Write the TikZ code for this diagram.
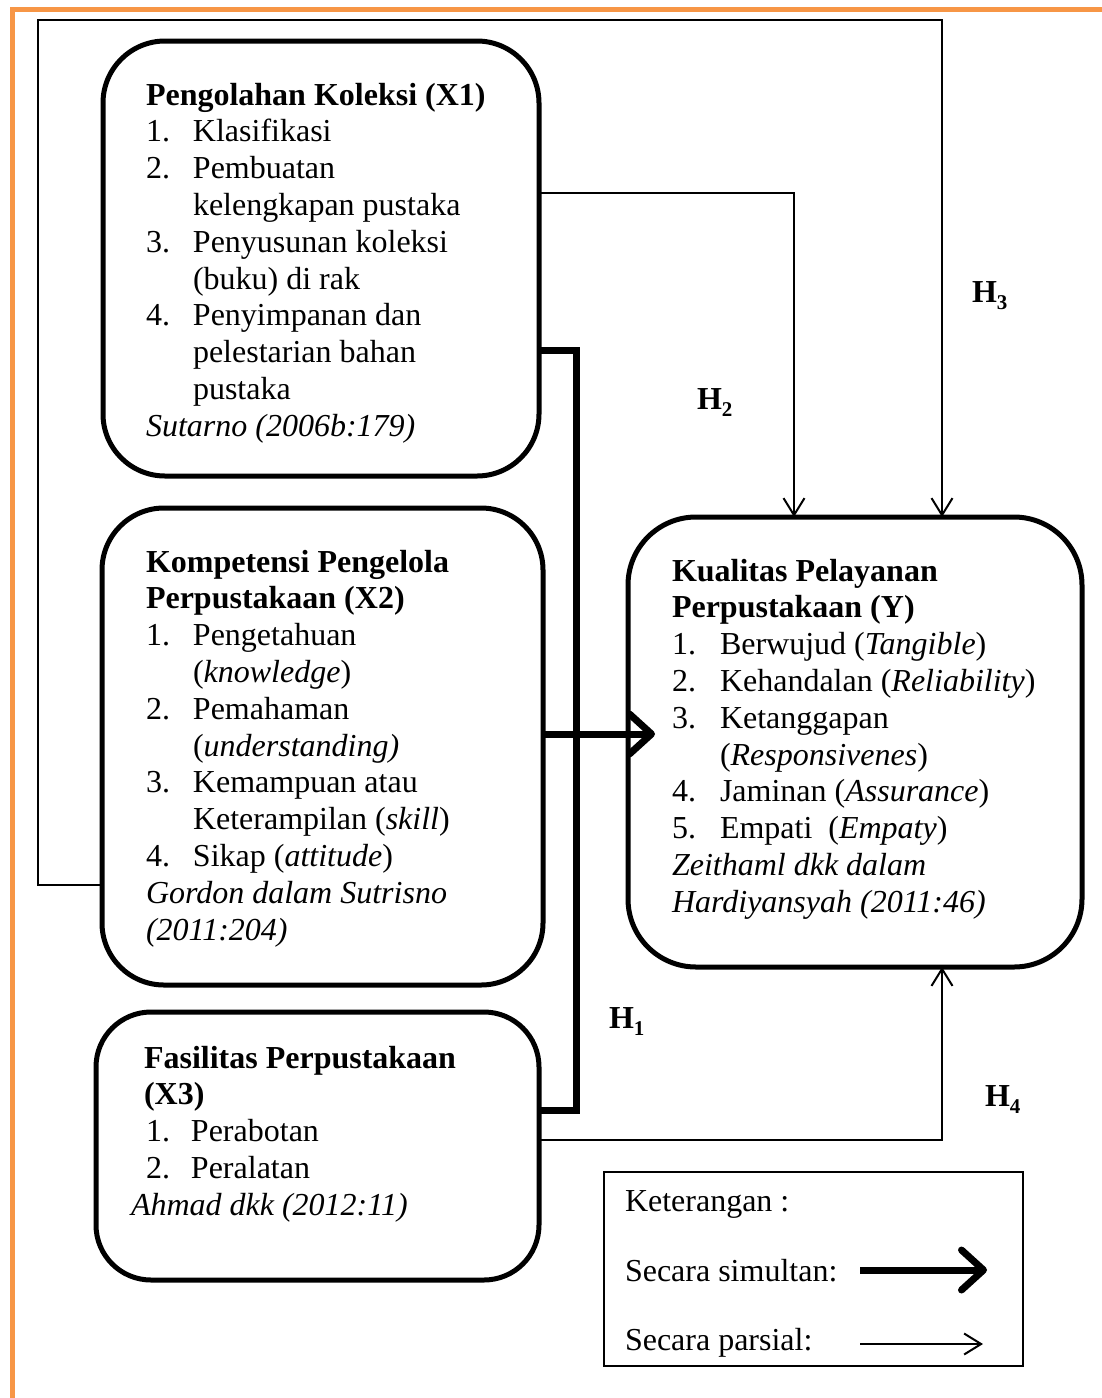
\documentclass[tikz,border=0pt]{standalone}
\usepackage{fontspec}
\setmainfont{Liberation Serif}
\usetikzlibrary{arrows.meta}
\definecolor{frameorange}{HTML}{F79646}
\newcommand\itm[2]{\makebox[47pt][l]{#1}#2}
\newcommand\hsub[1]{\textbf{H}\raisebox{-0.22em}{\fontsize{21}{21}\selectfont\bfseries #1}}
\tikzset{
  txt/.style={anchor=base west,inner sep=0pt,outer sep=0pt,font=\fontsize{32}{36.8}\selectfont},
  boxnode/.style={draw,line width=5pt,rounded corners=62pt,inner sep=0pt,outer sep=0pt},
  legendbox/.style={draw,line width=1.6pt,inner sep=0pt,outer sep=0pt},
  thinline/.style={line width=2pt,-{Straight Barb[length=17pt,width=21pt,line width=2pt]}},
  thinplain/.style={line width=2pt},
  thickline/.style={line width=7pt,line join=miter},
  thickarrow/.style={line width=7pt,-{Straight Barb[length=22pt,width=40pt,line width=7pt,round]}},
}
\begin{document}
\begin{tikzpicture}[x=1pt,y=-1pt]
\useasboundingbox (0,0) rectangle (1101,1398);
% orange frame
\draw[frameorange,line width=5pt] (12,1410) -- (12,9.5) -- (1110,9.5);

% boxes
\node[boxnode,minimum width=436pt,minimum height=435pt] (X1) at (321,258.5) {};
\node[boxnode,minimum width=441pt,minimum height=477pt] (X2) at (322.5,746.5) {};
\node[boxnode,minimum width=443pt,minimum height=268pt,rounded corners=55pt] (X3) at (317.5,1146) {};
\node[boxnode,minimum width=454pt,minimum height=450pt,rounded corners=68pt] (Y) at (855,742) {};
\node[legendbox,minimum width=419pt,minimum height=194pt] (L) at (813.5,1269) {};

% X1 text
\node[txt] (a1) at (146,105) {\textbf{Pengolahan Koleksi (X1)}};
\node[txt] (a2) at (146,141.8) {\itm{1.}{Klasifikasi}};
\node[txt] (a3) at (146,178.6) {\itm{2.}{Pembuatan}};
\node[txt] (a4) at (146,215.4) {\itm{}{kelengkapan pustaka}};
\node[txt] (a5) at (146,252.2) {\itm{3.}{Penyusunan koleksi}};
\node[txt] (a6) at (146,289) {\itm{}{(buku) di rak}};
\node[txt] (a7) at (146,325.8) {\itm{4.}{Penyimpanan dan}};
\node[txt] (a8) at (146,362.6) {\itm{}{pelestarian bahan}};
\node[txt] (a9) at (146,399.4) {\itm{}{pustaka}};
\node[txt] (a10) at (146,436.2) {\textit{Sutarno (2006b:179)}};

% X2 text
\node[txt] (b1) at (146,572) {\textbf{Kompetensi Pengelola}};
\node[txt] (b2) at (146,608.8) {\textbf{Perpustakaan (X2)}};
\node[txt] (b3) at (146,645.6) {\itm{1.}{Pengetahuan}};
\node[txt] (b4) at (146,682.4) {\itm{}{(\textit{knowledge})}};
\node[txt] (b5) at (146,719.2) {\itm{2.}{Pemahaman}};
\node[txt] (b6) at (146,756) {\itm{}{(\textit{understanding)}}};
\node[txt] (b7) at (146,792.8) {\itm{3.}{Kemampuan atau}};
\node[txt] (b8) at (146,829.6) {\itm{}{Keterampilan (\textit{skill})}};
\node[txt] (b9) at (146,866.4) {\itm{4.}{Sikap (\textit{attitude})}};
\node[txt] (b10) at (146,903.2) {\textit{Gordon dalam Sutrisno}};
\node[txt] (b11) at (146,940) {\textit{(2011:204)}};

% X3 text
\node[txt] (c1) at (144,1068) {\textbf{Fasilitas Perpustakaan}};
\node[txt] (c2) at (144,1104.8) {\textbf{(X3)}};
\node[txt] (c3) at (146,1141.6) {\makebox[45pt][l]{1.}Perabotan};
\node[txt] (c4) at (146,1178.4) {\makebox[45pt][l]{2.}Peralatan};
\node[txt] (c5) at (131,1215.2) {\textit{Ahmad dkk (2012:11)}};

% Y text
\node[txt] (d1) at (672,581) {\textbf{Kualitas Pelayanan}};
\node[txt] (d2) at (672,617.8) {\textbf{Perpustakaan (Y)}};
\node[txt] (d3) at (672,654.6) {\makebox[48pt][l]{1.}Berwujud (\textit{Tangible})};
\node[txt] (d4) at (672,691.4) {\makebox[48pt][l]{2.}Kehandalan (\textit{Reliability})};
\node[txt] (d5) at (672,728.2) {\makebox[48pt][l]{3.}Ketanggapan};
\node[txt] (d6) at (672,765) {\makebox[48pt][l]{}(\textit{Responsivenes})};
\node[txt] (d7) at (672,801.8) {\makebox[48pt][l]{4.}Jaminan (\textit{Assurance})};
\node[txt] (d8) at (672,838.6) {\makebox[48pt][l]{5.}Empati\ \ (\textit{Empaty})};
\node[txt] (d9) at (672,875.4) {\textit{Zeithaml dkk dalam}};
\node[txt] (d10) at (672,912.2) {\textit{Hardiyansyah (2011:46)}};

% H labels
\node[txt] (h3) at (972,302) {\hsub{3}};
\node[txt] (h2) at (697,409) {\hsub{2}};
\node[txt] (h1) at (609,1028) {\hsub{1}};
\node[txt] (h4) at (985,1106) {\hsub{4}};

% legend
\node[txt] (l1) at (625,1211) {Keterangan :};
\node[txt] (l2) at (625,1281) {Secara simultan:};
\node[txt] (l3) at (625,1350) {Secara parsial:};
\coordinate (s1) at (860,1270);
\coordinate (s2) at (987,1270);
\coordinate (p1) at (860,1344);
\coordinate (p2) at (983,1344);
\draw[thickarrow] (s1) -- (s2);
\draw[thinline] (p1) -- (p2);

% thin connectors
\draw[thinline] (X2.west |- 0,885) -- (38,885) -- (38,20) -- (942,20) -- (Y.north -| 942,0);
\draw[thinline] (X1.east |- 0,193) -- (794,193) -- (Y.north -| 794,0);
\draw[thinline] (X3.east |- 0,1140) -- (942,1140) -- (Y.south -| 942,0);

% thick bracket and arrow
\draw[thickline] (X1.east |- 0,350) -- (576,350) -- (576,1110) -- (X3.east |- 0,1110);
\coordinate (tip) at (655,734);
\draw[thickarrow] (X2.east |- 0,734) -- (tip);
\end{tikzpicture}
\end{document}
